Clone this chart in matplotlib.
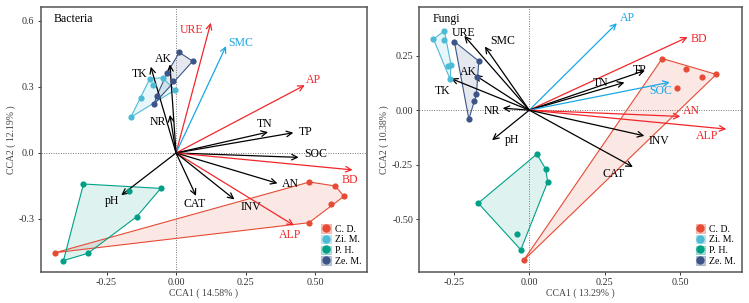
import numpy as np
import matplotlib
matplotlib.use("Agg")
import matplotlib.pyplot as plt
from matplotlib.patches import Patch
from matplotlib.lines import Line2D

plt.rcParams["font.family"] = ["Liberation Serif", "DejaVu Serif"]

groups = ["C. D.", "Zi. M.", "P. H.", "Ze. M."]
group_colors = ["#E64B35", "#4DBBD5", "#00A087", "#3C5488"]

# Bacteria site scores
bac_cd_x = [0.48, 0.573, 0.604, 0.559, 0.478, -0.434]
bac_cd_y = [-0.132, -0.15, -0.197, -0.23, -0.317, -0.453]
bac_zi_x = [-0.163, -0.127, -0.094, -0.084, -0.048, -0.004]
bac_zi_y = [0.162, 0.251, 0.338, 0.309, 0.342, 0.286]
bac_ph_x = [-0.333, -0.168, -0.055, -0.141, -0.317, -0.405]
bac_ph_y = [-0.141, -0.173, -0.161, -0.289, -0.456, -0.489]
bac_ze_x = [0.012, 0.06, -0.032, -0.012, -0.069, -0.079]
bac_ze_y = [0.457, 0.417, 0.364, 0.329, 0.261, 0.223]

# Bacteria environmental arrows
bac_vars = ["URE", "SMC", "AP", "AK", "TK", "NR", "TN", "TP", "SOC", "BD", "AN", "ALP", "INV", "CAT", "pH"]
bac_vx = [0.125, 0.18, 0.463, -0.022, -0.091, -0.022, 0.331, 0.422, 0.441, 0.635, 0.365, 0.424, 0.21, 0.072, -0.197]
bac_vy = [0.592, 0.486, 0.308, 0.403, 0.392, 0.173, 0.095, 0.092, -0.02, -0.077, -0.138, -0.329, -0.211, -0.195, -0.192]
bac_lx = [0.054, 0.232, 0.494, -0.046, -0.132, -0.067, 0.32, 0.466, 0.502, 0.626, 0.412, 0.412, 0.27, 0.067, -0.232]
bac_ly = [0.559, 0.50, 0.332, 0.427, 0.359, 0.141, 0.132, 0.094, -0.006, -0.123, -0.142, -0.373, -0.247, -0.232, -0.22]
bac_vcol = ["r", "b", "r", "k", "k", "k", "k", "k", "k", "r", "k", "r", "k", "k", "k"]

# Fungi site scores
fun_cd_x = [0.44, 0.518, 0.571, 0.619, 0.489, -0.019]
fun_cd_y = [0.237, 0.188, 0.154, 0.164, 0.102, -0.69]
fun_zi_x = [-0.281, -0.317, -0.281, -0.259, -0.27, -0.262]
fun_zi_y = [0.364, 0.326, 0.32, 0.208, 0.203, 0.142]
fun_ph_x = [0.025, 0.054, 0.061, -0.169, -0.039, -0.028]
fun_ph_y = [-0.202, -0.269, -0.329, -0.427, -0.569, -0.641]
fun_ze_x = [-0.248, -0.167, -0.173, -0.175, -0.184, -0.2]
fun_ze_y = [0.315, 0.225, 0.15, 0.072, 0.044, -0.041]

# Fungi environmental arrows
fun_vars = ["AP", "BD", "TP", "TN", "SOC", "AN", "ALP", "INV", "CAT", "pH", "NR", "TK", "AK", "URE", "SMC"]
fun_vx = [0.29, 0.524, 0.383, 0.315, 0.465, 0.5, 0.652, 0.381, 0.343, -0.123, -0.088, -0.259, -0.18, -0.215, -0.147]
fun_vy = [0.399, 0.335, 0.182, 0.127, 0.128, -0.029, -0.087, -0.118, -0.261, -0.138, 0.009, 0.145, 0.161, 0.341, 0.292]
fun_lx = [0.326, 0.56, 0.366, 0.235, 0.435, 0.538, 0.59, 0.43, 0.279, -0.058, -0.123, -0.288, -0.2, -0.218, -0.088]
fun_ly = [0.422, 0.326, 0.186, 0.124, 0.09, -0.003, -0.121, -0.142, -0.294, -0.136, -0.003, 0.09, 0.177, 0.353, 0.318]
fun_vcol = ["b", "r", "k", "k", "b", "r", "r", "k", "k", "k", "k", "k", "k", "k", "k"]

arrow_colors = {"r": "#F2262A", "b": "#1AA7E6", "k": "black"}


def hull(xs, ys):
    pts = sorted(zip(xs, ys))

    def cross(o, a, b):
        return (a[0] - o[0]) * (b[1] - o[1]) - (a[1] - o[1]) * (b[0] - o[0])

    lower, upper = [], []
    for p in pts:
        while len(lower) >= 2 and cross(lower[-2], lower[-1], p) <= 0:
            lower.pop()
        lower.append(p)
    for p in reversed(pts):
        while len(upper) >= 2 and cross(upper[-2], upper[-1], p) <= 0:
            upper.pop()
        upper.append(p)
    return np.array(lower[:-1] + upper[:-1])


def panel(ax, sites, vars_, vx, vy, lx, ly, vcol, title, xlab, ylab, xlim, ylim, yticks, ylabels):
    ax.axhline(0, color="#777777", lw=0.7, ls=(0, (1, 1.5)), zorder=0)
    ax.axvline(0, color="#777777", lw=0.7, ls=(0, (1, 1.5)), zorder=0)
    for (xs, ys), c in zip(sites, group_colors):
        h = hull(xs, ys)
        ax.fill(h[:, 0], h[:, 1], facecolor=c, alpha=0.13, edgecolor="none", zorder=1)
        ax.fill(h[:, 0], h[:, 1], facecolor="none", edgecolor=c, lw=0.8, zorder=2)
        ax.scatter(xs, ys, s=20, color=c, zorder=4, linewidths=0)
    for name, x, y, tx, ty, c in zip(vars_, vx, vy, lx, ly, vcol):
        col = arrow_colors[c]
        ax.annotate("", xy=(x, y), xytext=(0, 0),
                    arrowprops=dict(arrowstyle="->", color=col, lw=0.9,
                                    mutation_scale=10, shrinkA=0, shrinkB=0),
                    zorder=3)
        ax.text(tx, ty, name, color=col, fontsize=8.5, ha="center", va="center", zorder=5)
    ax.text(0.04, 0.955, title, transform=ax.transAxes, fontsize=8.5, va="center", ha="left")
    ax.set_xlim(xlim)
    ax.set_ylim(ylim)
    ax.set_xticks([-0.25, 0, 0.25, 0.5])
    ax.set_xticklabels(["-0.25", "0.00", "0.25", "0.50"])
    ax.set_yticks(yticks)
    ax.set_yticklabels(ylabels)
    ax.set_xlabel(xlab, fontsize=7, color="#444444", labelpad=1)
    ax.set_ylabel(ylab, fontsize=7, color="#444444", labelpad=2)
    ax.tick_params(labelsize=7.3, colors="#333333", length=2.5, width=0.7, pad=2)
    for sp in ax.spines.values():
        sp.set_color("#555555")
        sp.set_linewidth(1.1)
    handles = [(Patch(facecolor=c, alpha=0.3, edgecolor=c, lw=0.8),
                Line2D([], [], marker="o", ls="", color=c, markersize=5))
               for c in group_colors]
    ax.legend(handles, groups, loc="lower right", frameon=False, fontsize=7,
              handlelength=1.0, handleheight=1.0, handletextpad=0.4,
              labelspacing=0.12, borderaxespad=0.2)


fig = plt.figure(figsize=(7.49, 3.03), dpi=100)
ax1 = fig.add_axes([0.0543, 0.1023, 0.4357, 0.875])
ax2 = fig.add_axes([0.5598, 0.1023, 0.4304, 0.875])

panel(ax1,
      [(bac_cd_x, bac_cd_y), (bac_zi_x, bac_zi_y), (bac_ph_x, bac_ph_y), (bac_ze_x, bac_ze_y)],
      bac_vars, bac_vx, bac_vy, bac_lx, bac_ly, bac_vcol, "Bacteria",
      "CCA1 ( 14.58% )", "CCA2 ( 12.19% )", (-0.487, 0.687), (-0.541, 0.664),
      [-0.3, 0, 0.3, 0.6], ["-0.3", "0.0", "0.3", "0.6"])

panel(ax2,
      [(fun_cd_x, fun_cd_y), (fun_zi_x, fun_zi_y), (fun_ph_x, fun_ph_y), (fun_ze_x, fun_ze_y)],
      fun_vars, fun_vx, fun_vy, fun_lx, fun_ly, fun_vcol, "Fungi",
      "CCA1 ( 13.29% )", "CCA2 ( 10.38% )", (-0.364, 0.703), (-0.743, 0.474),
      [-0.5, -0.25, 0, 0.25], ["-0.50", "-0.25", "0.00", "0.25"])

fig.savefig("out.png", dpi=100)
